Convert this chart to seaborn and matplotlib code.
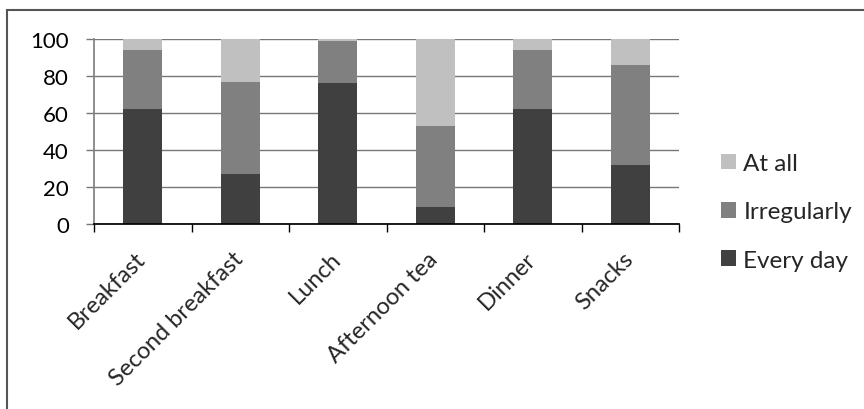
import matplotlib
matplotlib.use("Agg")
import matplotlib.pyplot as plt
import matplotlib.transforms as mtransforms
from matplotlib.patches import Rectangle, Patch
import seaborn as sns
import pandas as pd
import numpy as np

meals = ["Breakfast", "Second breakfast", "Lunch", "Afternoon tea", "Dinner", "Snacks"]
every_day = [62, 27, 76, 9, 62, 32]
irregularly = [32, 50, 23, 44, 32, 54]
at_all = [6, 23, 1, 47, 6, 14]

series_colors = {"Every day": "#404040", "Irregularly": "#808080", "At all": "#c0c0c0"}

sns.set_theme(style="white")
plt.rcParams["font.family"] = ["Lato", "DejaVu Sans"]

# cumulative tops so each segment is drawn stacked
cum1 = np.array(every_day)
cum2 = cum1 + np.array(irregularly)
cum3 = cum2 + np.array(at_all)
df = pd.DataFrame({"meal": meals, "Every day": cum1, "Irregularly": cum2, "At all": cum3})

fig = plt.figure(figsize=(8.64, 4.10), dpi=100)
ax = fig.add_axes([94 / 864, 1 - 225 / 410, (679 - 94) / 864, (225 - 40) / 410])

# draw tallest stack first so lower segments sit on top
for name in ["At all", "Irregularly", "Every day"]:
    sns.barplot(data=df, x="meal", y=name, color=series_colors[name], width=0.4,
                saturation=1, ax=ax, zorder=3, linewidth=0)

ax.set_ylim(0, 100)
ax.set_xlim(-0.5, len(meals) - 0.5)
ax.set_yticks([0, 20, 40, 60, 80, 100])
ax.yaxis.grid(True, color="#777777", linewidth=1.0, zorder=0)
ax.set_axisbelow(True)
ax.set_xlabel("")
ax.set_ylabel("")

for side in ["top", "right"]:
    ax.spines[side].set_visible(False)
ax.spines["left"].set_color("#808080")
ax.spines["bottom"].set_color("#000000")
ax.spines["bottom"].set_zorder(5)

ax.tick_params(axis="y", which="major", direction="out", length=6, width=1,
               color="#777777", labelsize=16, pad=12, left=True, labelcolor="#000000")
ax.set_xticks(np.arange(len(meals)))
ax.set_xticklabels(meals, rotation=45, ha="right", rotation_mode="anchor", fontsize=17)
ax.tick_params(axis="x", which="major", length=0, pad=17)
shift = mtransforms.ScaledTranslation(-8 / 100, 0, fig.dpi_scale_trans)
for lbl in ax.get_xticklabels():
    lbl.set_transform(lbl.get_transform() + shift)
# tick marks between categories
ax.set_xticks(np.arange(len(meals) + 1) - 0.5, minor=True)
ax.tick_params(axis="x", which="minor", direction="out", length=6, width=1,
               color="#000000", bottom=True)

handles = [Patch(facecolor=series_colors[n], edgecolor="none") for n in ["At all", "Irregularly", "Every day"]]
fig.legend(handles, ["At all", "Irregularly", "Every day"], loc="center left",
           bbox_to_anchor=(721 / 864, 1 - 213 / 410), frameon=False, fontsize=17.5,
           handlelength=0.62, handleheight=0.6, handletextpad=0.3, labelspacing=1.12,
           borderaxespad=0, borderpad=0)

# outer chart frame
fig.patches.append(Rectangle((7 / 864, -0.05), 1.2, 1 - 11 / 410 + 0.05, transform=fig.transFigure,
                             fill=False, edgecolor="#555555", linewidth=1.5, zorder=0))

fig.savefig("out.png", dpi=100)
